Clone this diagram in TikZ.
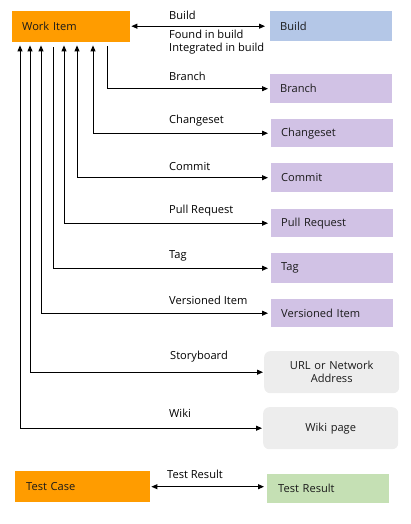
\documentclass[tikz,border=0pt]{standalone}
\usepackage{fontspec}
\setmainfont{Open Sans}
\usetikzlibrary{arrows.meta}
\definecolor{wiorange}{HTML}{FF9C00}
\definecolor{buildblue}{HTML}{B4C7E7}
\definecolor{vcpurple}{HTML}{D1C2E5}
\definecolor{linkgray}{HTML}{EDEDED}
\definecolor{resgreen}{HTML}{C5E0B4}
\definecolor{txt}{HTML}{1A1A1A}
\begin{document}
\begin{tikzpicture}[x=1pt,y=-1pt,
  font=\fontsize{11.1}{13}\selectfont,
  box/.style={anchor=north west, inner xsep=10pt, inner ysep=0pt, align=left, text=txt},
  rbox/.style={anchor=north west, inner xsep=10pt, inner ysep=0pt, align=center, text=txt,
               fill=linkgray, rounded corners=6pt, text width=115pt, minimum height=42pt},
  lbl/.style={anchor=west, inner sep=0pt, align=left, text=black},
  conn/.style={draw=black, line width=0.9pt, arrows={-Triangle[length=6pt,width=5pt]}},
  conn2/.style={draw=black, line width=0.9pt, arrows={Triangle[length=6pt,width=5pt]-Triangle[length=6pt,width=5pt]}}
]
\useasboundingbox (0,0) rectangle (411,524);

% boxes
\node[box, fill=wiorange, text width=98pt, minimum height=31pt] (wi) at (12,11) {Work Item};
\node[box, fill=buildblue, text width=102pt, minimum height=30pt] (build) at (270,11) {Build};
\node[box, fill=vcpurple, text width=102pt, minimum height=29pt] (branch) at (270,74) {Branch};
\node[box, fill=vcpurple, text width=102pt, minimum height=28pt] (changeset) at (271,119) {Changeset};
\node[box, fill=vcpurple, text width=102pt, minimum height=29pt] (commit) at (271,163) {Commit};
\node[box, fill=vcpurple, text width=102pt, minimum height=28pt] (pr) at (271,209) {Pull Request};
\node[box, fill=vcpurple, text width=102pt, minimum height=30pt] (tag) at (271,253) {Tag};
\node[box, fill=vcpurple, text width=102pt, minimum height=28pt] (vi) at (271,299) {Versioned Item};
\node[rbox] (url) at (264,351) {URL or Network\\Address};
\node[rbox] (wiki) at (263,407) {Wiki page};
\node[box, fill=wiorange, inner xsep=11pt, text width=113pt, minimum height=31pt] (tc) at (15,471) {Test Case};
\node[box, fill=resgreen, inner xsep=11pt, text width=100pt, minimum height=29pt] (tr) at (267,474) {Test Result};

% labels
\node[lbl] (lbuild) at (169,15) {Build};
\node[lbl] (lfound) at (169,42.5) {Found in build\\Integrated in build};
\node[lbl] (lbranch) at (169,76) {Branch};
\node[lbl] (lchangeset) at (169,121) {Changeset};
\node[lbl] (lcommit) at (169,166) {Commit};
\node[lbl] (lpr) at (169,211) {Pull Request};
\node[lbl] (ltag) at (169,256) {Tag};
\node[lbl] (lvi) at (169,300) {Versioned Item};
\node[lbl] (lstory) at (170,357) {Storyboard};
\node[lbl] (lwiki) at (169,413) {Wiki};
\node[lbl] (ltr) at (167,474) {Test Result};

% connectors
\draw[conn2, shorten <=1pt, shorten >=5pt] (wi.east |- build.west) -- (build.west);
\draw[conn, shorten <=4pt, shorten >=2pt] ([xshift=95pt]wi.south west) |- (branch.west);
\draw[conn2, shorten <=3pt, shorten >=3pt] ([xshift=81pt]wi.south west) |- (changeset.west);
\draw[conn2, shorten <=3pt, shorten >=3pt] ([xshift=65pt]wi.south west) |- (commit.west);
\draw[conn2, shorten <=3pt, shorten >=3pt] ([xshift=52pt]wi.south west) |- (pr.west);
\draw[conn, shorten <=5pt, shorten >=3pt] ([xshift=41pt]wi.south west) |- (tag.west);
\draw[conn2, shorten <=3pt, shorten >=3pt] ([xshift=29pt]wi.south west) |- (vi.west);
\draw[conn2, shorten <=3pt, shorten >=1pt] ([xshift=18pt]wi.south west) |- (url.west);
\draw[conn2, shorten <=3pt, shorten >=1pt] ([xshift=8pt]wi.south west) |- (wiki.west);
\draw[conn2, shorten <=1pt, shorten >=3pt] (tc.east) -- (tc.east -| tr.west);
\end{tikzpicture}
\end{document}
